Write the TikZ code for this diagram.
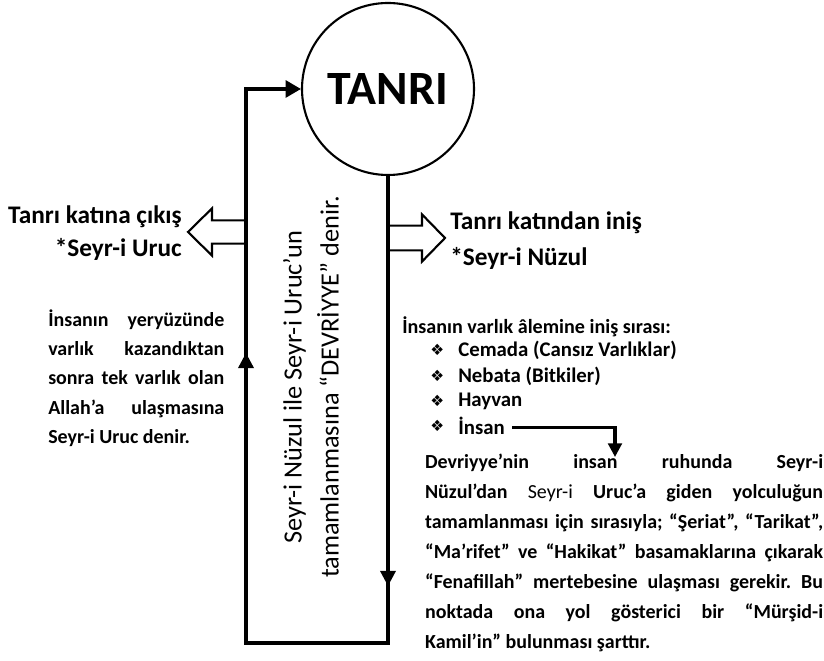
\documentclass[tikz,border=0pt]{standalone}
\usepackage{fontspec}
\setmainfont{Carlito}
\newfontfamily\symfont{DejaVu Sans}
\frenchspacing
\usetikzlibrary{
  arrows.meta,
  decorations.markings
}

\begin{document}
\begin{tikzpicture}[>=Stealth,
  flow/.style={line width=2.2pt,line join=miter},
  hollow/.style={line width=1.5pt,line join=miter},
  tip/.style={-{Triangle[width=0.42cm,length=0.38cm]}},
  twoarrows/.style={postaction={decorate},decoration={markings,
    mark=at position 10.25cm with {\arrow{Triangle[width=0.38cm,length=0.38cm]}},
    mark=at position 22.475cm with {\arrow{Triangle[width=0.38cm,length=0.38cm]}}}},
  head/.style={font=\bfseries\fontsize{18}{21}\selectfont,inner sep=0pt},
  item/.style={font=\bfseries\fontsize{14.8}{18}\selectfont,inner sep=0pt,anchor=west},
  bullet/.style={font=\symfont\fontsize{11}{12}\selectfont,inner sep=0pt,anchor=west},
  para/.style={font=\bfseries\fontsize{14.2}{21.3}\selectfont,inner sep=0pt,align=justify}
]
\useasboundingbox (0,0) rectangle (20.6,16.525);

%--------------------
% TANRI ve devir
%--------------------
\node[circle,draw,line width=1.5pt,minimum size=4.3cm,
  font=\bfseries\fontsize{34}{34}\selectfont] (tanri) at (9.7,14.3) {TANRI};

\coordinate (sagalt) at (tanri.south |- 0,0.45);
\coordinate (solalt) at (6.15,0.45);
\coordinate (solust) at (tanri.west -| solalt);

% Seyr-i Nüzul aşağı, Seyr-i Uruc yukarı
\draw[flow,twoarrows,tip]
  (tanri.south) -- (sagalt) -- (solalt) -- (solust) -- (tanri.west);

% dikey yazı
\node[rotate=90,align=center,font=\fontsize{18.7}{26.3}\selectfont]
  (devriyye) at (7.775,6.85)
  {Seyr-i Nüzul ile Seyr-i Uruc’un\\
   tamamlanmasına “DEVRİYYE” denir.};

%--------------------
% Sol taraf
%--------------------
% boş ok (sola)
\draw[hollow]
  (6.15,11.015) -- (5.3,11.015) -- (5.3,11.315) -- (4.7,10.725)
  -- (5.3,10.135) -- (5.3,10.435) -- (6.15,10.435);

\node[head,anchor=east] (cikis) at (4.55,11.1) {Tanrı katına çıkış};
\node[head,anchor=east] (uruc) at (4.55,10.3) {*Seyr-i Uruc};

\node[para,text width=4.4cm,anchor=north west,
  font=\bfseries\fontsize{14.2}{20.7}\selectfont] (urucyazi) at (1.2,8.78)
  {\hyphenpenalty=10000
   İnsanın yeryüzünde\linebreak
   varlık kazandıktan\linebreak
   sonra tek varlık olan\linebreak
   Allah’a ulaşmasına\linebreak
   Seyr-i Uruc denir.};

%--------------------
% Sağ taraf
%--------------------
% boş ok (sağa)
\draw[hollow]
  (tanri.south |- 0,10.885) -- (10.55,10.885) -- (10.55,11.165) -- (11.125,10.575)
  -- (10.55,9.985) -- (10.55,10.265) -- (tanri.south |- 0,10.265);

\node[head,anchor=west] (inis) at (11.25,10.95) {Tanrı katından iniş};
\node[head,anchor=west] (nuzul) at (11.25,10.07) {*Seyr-i Nüzul};

% iniş sırası
\node[item,font=\bfseries\fontsize{14.3}{18}\selectfont] (sira) at (10.05,8.35)
  {İnsanın varlık âlemine iniş sırası:};
\node[bullet] (b1) at (10.75,7.77) {❖};
\node[item] (cemada) at (11.45,7.77) {Cemada (Cansız Varlıklar)};
\node[bullet] (b2) at (10.75,7.12) {❖};
\node[item] (nebata) at (11.45,7.12) {Nebata (Bitkiler)};
\node[bullet] (b3) at (10.75,6.5) {❖};
\node[item] (hayvan) at (11.45,6.5) {Hayvan};
\node[bullet] (b4) at (10.75,5.87) {❖};
\node[item] (insan) at (11.45,5.87) {İnsan};

\coordinate (asagi) at (15.375,5.1);
\draw[flow,-{Triangle[width=0.34cm,length=0.34cm]}]
  ([xshift=5pt,yshift=-1pt]insan.east) -| (asagi);

\node[para,text width=9.95cm,anchor=north west] (devriyyeyazi) at (10.62,5.18)
  {\hyphenpenalty=10000
   Devriyye’nin insan ruhunda Seyr-i\linebreak
   Nüzul’dan {\mdseries Seyr-i} Uruc’a giden yolculuğun\linebreak
   tamamlanması için sırasıyla; “Şeriat”, “Tarikat”,\linebreak
   “Ma’rifet” ve “Hakikat” basamaklarına çıkarak\linebreak
   “Fenafillah” mertebesine ulaşması gerekir. Bu\linebreak
   noktada ona yol gösterici bir “Mürşid-i\linebreak
   Kamil’in” bulunması şarttır.};

\end{tikzpicture}
\end{document}
